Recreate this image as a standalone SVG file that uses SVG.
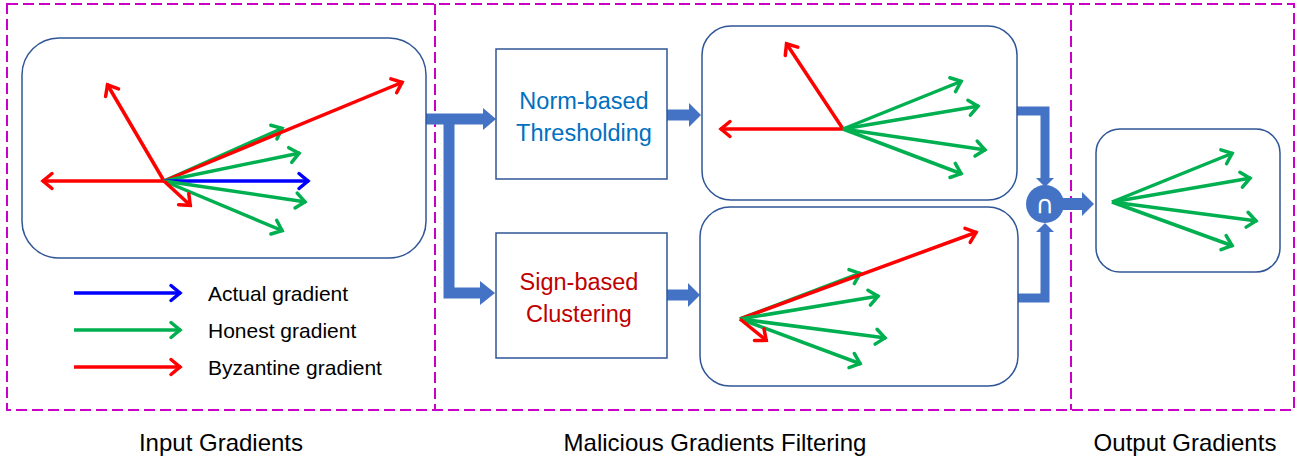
<svg xmlns="http://www.w3.org/2000/svg" width="1301" height="462" viewBox="0 0 1301 462">
<style>
.region{fill:none;stroke:#C800C8;stroke-width:2;stroke-dasharray:11 5}
.panel{fill:#fff;stroke:#2F5597;stroke-width:1.5}
.proc{fill:#fff;stroke:#2F5597;stroke-width:1.5}
.r{stroke:#FF0000;stroke-width:3.5;fill:none;marker-end:url(#mr)}
.g{stroke:#00B050;stroke-width:3.5;fill:none;marker-end:url(#mg)}
.b{stroke:#0000FF;stroke-width:3.5;fill:none;marker-end:url(#mb)}
.flow{fill:none;stroke:#4472C4;stroke-linejoin:miter}
.head{fill:#4472C4}
.t{font-family:"Liberation Sans",Arial,sans-serif;fill:#000}
</style>
<defs>
<marker id="mr" viewBox="-14 -10 16 20" markerWidth="16" markerHeight="20" refX="0" refY="0" orient="auto" markerUnits="userSpaceOnUse"><path d="M-10,-7.5 L-1,0 L-10,7.5" fill="none" stroke="#FF0000" stroke-width="3.5" stroke-linecap="round"/></marker>
<marker id="mg" viewBox="-14 -10 16 20" markerWidth="16" markerHeight="20" refX="0" refY="0" orient="auto" markerUnits="userSpaceOnUse"><path d="M-10,-7.5 L-1,0 L-10,7.5" fill="none" stroke="#00B050" stroke-width="3.5" stroke-linecap="round"/></marker>
<marker id="mb" viewBox="-14 -10 16 20" markerWidth="16" markerHeight="20" refX="0" refY="0" orient="auto" markerUnits="userSpaceOnUse"><path d="M-10,-7.5 L-1,0 L-10,7.5" fill="none" stroke="#0000FF" stroke-width="3.5" stroke-linecap="round"/></marker>
</defs>

<g id="regions">
<rect class="region" x="7" y="4" width="1287" height="406"/>
<line class="region" x1="435" y1="4" x2="435" y2="410"/>
<line class="region" x1="1071" y1="4" x2="1071" y2="410"/>
</g>

<g id="connectors">
<path class="flow" stroke-width="11" d="M426,119 H484"/>
<path class="flow" stroke-width="11" d="M449,119 V293 H481"/>
<polygon class="head" points="483,108 496,119 483,130"/>
<polygon class="head" points="480,281 495,293 480,305"/>
<path class="flow" stroke-width="11" d="M667,115 H690"/>
<polygon class="head" points="689,103 701,115 689,127"/>
<path class="flow" stroke-width="11" d="M667,295 H689"/>
<polygon class="head" points="688,283 700,295 688,307"/>
<path class="flow" stroke-width="9" d="M1017,111 H1045 V179"/>
<polygon class="head" points="1036,178 1054,178 1045,187"/>
<path class="flow" stroke-width="9" d="M1018,298 H1045 V231"/>
<polygon class="head" points="1036,232 1054,232 1045,223"/>
<path class="flow" stroke-width="12" d="M1063,204 H1083"/>
<polygon class="head" points="1082,192 1094,204 1082,216"/>
</g>

<g id="input-gradients">
<rect class="panel" x="22" y="38" width="404" height="220" rx="37" ry="37"/>
<line class="r" x1="164" y1="181" x2="42" y2="181"/>
<line class="r" x1="164" y1="181" x2="107" y2="84"/>
<line class="g" x1="164" y1="181" x2="283" y2="128"/>
<line class="r" x1="164" y1="181" x2="403" y2="82"/>
<line class="g" x1="164" y1="181" x2="300" y2="153"/>
<line class="b" x1="164" y1="181" x2="309" y2="181"/>
<line class="g" x1="164" y1="181" x2="306" y2="202"/>
<line class="g" x1="164" y1="181" x2="283" y2="231"/>
<line class="r" x1="164" y1="181" x2="191" y2="206"/>
</g>

<g id="legend">
<line class="b" x1="74" y1="293" x2="181" y2="293"/>
<line class="g" x1="74" y1="330" x2="181" y2="330"/>
<line class="r" x1="74" y1="367" x2="181" y2="367"/>
<text class="t" x="208" y="301" font-size="21">Actual gradient</text>
<text class="t" x="208" y="338" font-size="21">Honest gradient</text>
<text class="t" x="208" y="375" font-size="21">Byzantine gradient</text>
</g>

<g id="norm-based">
<rect class="proc" x="496" y="49" width="171" height="130"/>
<text class="t" x="584" y="109" font-size="23.5" text-anchor="middle" style="fill:#0070C0">Norm-based</text>
<text class="t" x="584" y="141" font-size="23.5" text-anchor="middle" style="fill:#0070C0">Thresholding</text>
</g>

<g id="sign-based">
<rect class="proc" x="496" y="233" width="171" height="125"/>
<text class="t" x="579" y="290" font-size="23.5" text-anchor="middle" style="fill:#C00000">Sign-based</text>
<text class="t" x="579" y="322" font-size="23.5" text-anchor="middle" style="fill:#C00000">Clustering</text>
</g>

<g id="norm-result">
<rect class="panel" x="702" y="26" width="315" height="174" rx="29" ry="29"/>
<line class="r" x1="843" y1="129" x2="720" y2="129"/>
<line class="r" x1="843" y1="129" x2="786" y2="43"/>
<line class="g" x1="843" y1="129" x2="962" y2="81"/>
<line class="g" x1="843" y1="129" x2="979" y2="106"/>
<line class="g" x1="843" y1="129" x2="986" y2="150"/>
<line class="g" x1="843" y1="129" x2="962" y2="174"/>
</g>

<g id="sign-result">
<rect class="panel" x="700" y="207" width="318" height="179" rx="30" ry="30"/>
<line class="g" x1="740" y1="319" x2="861" y2="273"/>
<line class="r" x1="740" y1="319" x2="977" y2="232"/>
<line class="g" x1="740" y1="319" x2="879" y2="296"/>
<line class="g" x1="740" y1="319" x2="886" y2="338"/>
<line class="g" x1="740" y1="319" x2="861" y2="364"/>
<line class="r" x1="740" y1="319" x2="767" y2="341"/>
</g>

<g id="intersection">
<circle cx="1045" cy="204" r="19" fill="#4472C4"/>
<text x="1045" y="213" font-size="25" text-anchor="middle" fill="#fff" font-family="DejaVu Sans, sans-serif">∩</text>
</g>

<g id="output-gradients">
<rect class="panel" x="1096" y="129" width="184" height="143" rx="24" ry="24"/>
<line class="g" x1="1112" y1="202" x2="1233" y2="153"/>
<line class="g" x1="1112" y1="202" x2="1251" y2="178"/>
<line class="g" x1="1112" y1="202" x2="1257" y2="221"/>
<line class="g" x1="1112" y1="202" x2="1233" y2="246"/>
</g>

<g id="labels">
<text class="t" x="221" y="451" font-size="24" text-anchor="middle">Input Gradients</text>
<text class="t" x="715" y="451" font-size="24" text-anchor="middle">Malicious Gradients Filtering</text>
<text class="t" x="1185" y="451" font-size="24" text-anchor="middle">Output Gradients</text>
</g>
</svg>
